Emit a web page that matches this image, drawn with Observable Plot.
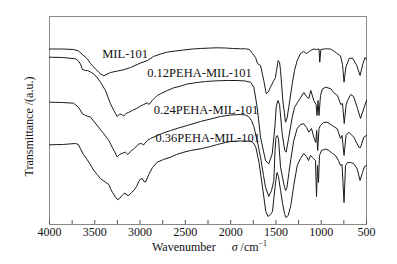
<!DOCTYPE html>
<html><head><meta charset="utf-8">
<script src="https://cdn.jsdelivr.net/npm/d3@7"></script>
<script src="https://cdn.jsdelivr.net/npm/@observablehq/plot@0.6"></script>
<style>body{margin:0;background:#fff}#chart svg{display:block}</style>
</head><body><div id="chart"></div>
<script>
const seriesNames = ["MIL-101", "0.12PEHA-MIL-101", "0.24PEHA-MIL-101", "0.36PEHA-MIL-101"];

const mil101Wn = [4000,3856,3735,3680,3636,3584,3547,3492,3437,3400,3360,3326,3249,3183,3106,2995,2918,2852,2774,2697,2609,2520,2421,2333,2222,2145,2057,1968,1891,1836,1792,1759,1725,1703,1670,1634,1607,1582,1560,1523,1505,1494,1475,1460,1449,1424,1394,1378,1358,1320,1295,1265,1229,1196,1162,1118,1085,1052,1024,1016,1004,953,897,853,820,787,765,748,728,691,655,607,571,539,516,500];
const mil101T = [175.5,175.5,175,173.5,170,165.7,161,155.5,150.7,148.7,150.5,152,153.5,154.7,157,161.5,164,168,170.5,172.5,173.5,174.5,175.5,176,176.5,176.7,176.5,176,175.7,175.7,175,171,167,161,159,144,130.7,133,137.3,144,147,154,164,162,154,124,102.3,106,117.3,140.7,154,164,171,173,171,174,175.5,175,175.5,162.3,175,175.7,175.5,173,170.7,168.5,160,142.3,157.3,166,166.5,159,149,161,167,165];

const p12Wn = [4000,3856,3713,3680,3658,3636,3602,3580,3547,3511,3470,3437,3382,3326,3290,3252,3227,3205,3180,3155,3128,3087,3039,2995,2962,2921,2901,2866,2811,2774,2700,2628,2554,2480,2369,2278,2149,2035,1928,1836,1781,1744,1707,1670,1615,1579,1541,1512,1497,1479,1460,1431,1402,1387,1358,1320,1295,1262,1225,1192,1162,1137,1115,1082,1057,1046,1035,1024,1008,986,949,894,864,820,784,765,746,726,710,673,643,599,566,525,500];
const p12T = [167.3,167,165.7,163.5,160.5,155,154,154,152.5,150.5,146.5,142.3,134,120.7,114,108,110.5,110,108.5,111,112,114,116,118.5,120,121.5,120,124,129,130.7,134,136.7,138.3,140.5,142,143,143.7,144,144,143.5,142.3,137.3,117.3,87.3,64,60.7,70.7,97.3,117.3,124,120,90.7,74,72.3,87.3,107.3,117,122,127.3,132,128,126,134,124,120,109,124,109,129,135.7,137.3,135.7,132,129,120,121,101,119,124,130,128,116,106,117.3,124];

const p24Wn = [4000,3856,3735,3680,3636,3602,3547,3473,3400,3345,3308,3282,3252,3227,3197,3161,3135,3106,3069,3014,2984,2962,2921,2885,2811,2741,2664,2576,2480,2333,2222,2112,2002,1891,1836,1803,1770,1744,1707,1670,1637,1615,1579,1549,1523,1510,1499,1486,1472,1449,1413,1394,1378,1358,1334,1303,1265,1229,1192,1162,1137,1107,1082,1060,1050,1039,1024,1008,975,934,879,823,787,770,748,726,695,640,585,566,530,500];
const p24T = [122.3,122,121.3,117.3,110.7,109,107.3,99,90.7,84,77.3,73,67.5,70,71.3,72.3,70,73,75.7,80.5,81,79.5,84,86,89,91.5,94,96.5,99,103,105.5,108,109.5,110,109.5,108,104,98,84,67.3,49,37.3,28,34,44,74,87,89,86,57.3,40.7,34,37,51,66,84,96,100,100.7,97,92.3,96,87.3,82,94,74,96,99,102,102.3,99,95.7,86,89,69,89,92.3,87.3,77.3,77,87.3,89];

const p36Wn = [4000,3856,3713,3680,3658,3625,3584,3547,3511,3473,3437,3400,3382,3345,3326,3304,3271,3246,3222,3197,3177,3166,3150,3124,3095,3069,3039,3014,2995,2976,2957,2940,2904,2863,2811,2741,2664,2598,2517,2443,2333,2222,2145,2057,1998,1891,1777,1748,1722,1685,1648,1612,1587,1560,1538,1521,1501,1488,1472,1449,1427,1402,1389,1364,1336,1303,1265,1229,1192,1162,1140,1118,1085,1063,1052,1041,1030,1019,997,953,916,875,842,809,787,770,748,732,710,677,643,603,571,544,522,500];
const p36T = [79.7,80,81,80,75.7,70,65,59.5,54,50,45.7,43.5,42.3,40,35.7,32,27.3,24.7,26.5,29,31,31.5,29.5,29,32,34,38,43,45.5,46,43,42.5,50,57,62.3,65,67.3,70,72.3,74,75.7,78,80,82,83,83.5,83.3,81.5,77.3,61,37.3,13,8,10,13,28,44,52,48,34,21,10,7,9,19,39,59,66,71,68,64,69,66,64,28,59,42,69,74,75.5,74,71,69,64,59,60,22,59,62,62,61,55.7,44,52,58,59];

const labelWn = [3418, 2921, 2848, 2830];
const labelT = [170.7, 152, 115, 87];

const tickLabels = [4000, 3500, 3000, 2500, 2000, 1500, 1000, 500];
const minorTicks = [4000, 3750, 3500, 3250, 3000, 2750, 2500, 2250, 2000, 1750, 1500, 1250, 1000, 750, 500];

const seriesData = [
  [mil101Wn, mil101T], [p12Wn, p12T], [p24Wn, p24T], [p36Wn, p36T]
];
const rows = seriesData.flatMap(([wn, t], k) => wn.map((w, i) => ({series: seriesNames[k], wn: w, t: t[i]})));
const labels = seriesNames.map((name, i) => ({name, wn: labelWn[i], t: labelT[i]}));

const font = "'Liberation Serif', 'Times New Roman', Times, serif";

const chart = Plot.plot({
  width: 397,
  height: 264,
  marginLeft: 49,
  marginRight: 31,
  marginTop: 16,
  marginBottom: 40,
  style: {fontFamily: font, fontSize: "12px", color: "#111", background: "#fff"},
  x: {domain: [4000, 500]},
  y: {domain: [0, 208], axis: null},
  marks: [
    Plot.frame({stroke: "#888"}),
    Plot.axisX(minorTicks, {tickSize: 4, dy: -4, tickFormat: () => "", stroke: "#555", label: null}),
    Plot.axisX(tickLabels, {tickSize: 0, tickPadding: 3, tickFormat: d => String(d), fill: "#111", label: null}),
    Plot.line(rows, {x: "wn", y: "t", z: "series", stroke: "#1a1a1a", strokeWidth: 1}),
    Plot.text(labels, {x: "wn", y: "t", text: "name", textAnchor: "start", fill: "#111", fontSize: 12.5})
  ]
});

const svg = d3.select(chart);
const xl = svg.append("text")
  .attr("x", 152).attr("y", 251)
  .attr("text-anchor", "start")
  .attr("font-family", font).attr("font-size", 12).attr("fill", "#111");
xl.append("tspan").text("Wavenumber");
xl.append("tspan").attr("dx", 16).attr("font-style", "italic").text("σ");
xl.append("tspan").text(" /cm");
xl.append("tspan").attr("dy", -5).attr("font-size", 8).text("−1");

svg.append("text")
  .attr("transform", "translate(29,126.5) rotate(-90)")
  .attr("text-anchor", "middle")
  .attr("dy", "0.35em")
  .attr("font-family", font).attr("font-size", 12).attr("fill", "#111")
  .text("Transmittance /(a.u.)");

document.getElementById("chart").append(chart);
</script>
</body></html>
